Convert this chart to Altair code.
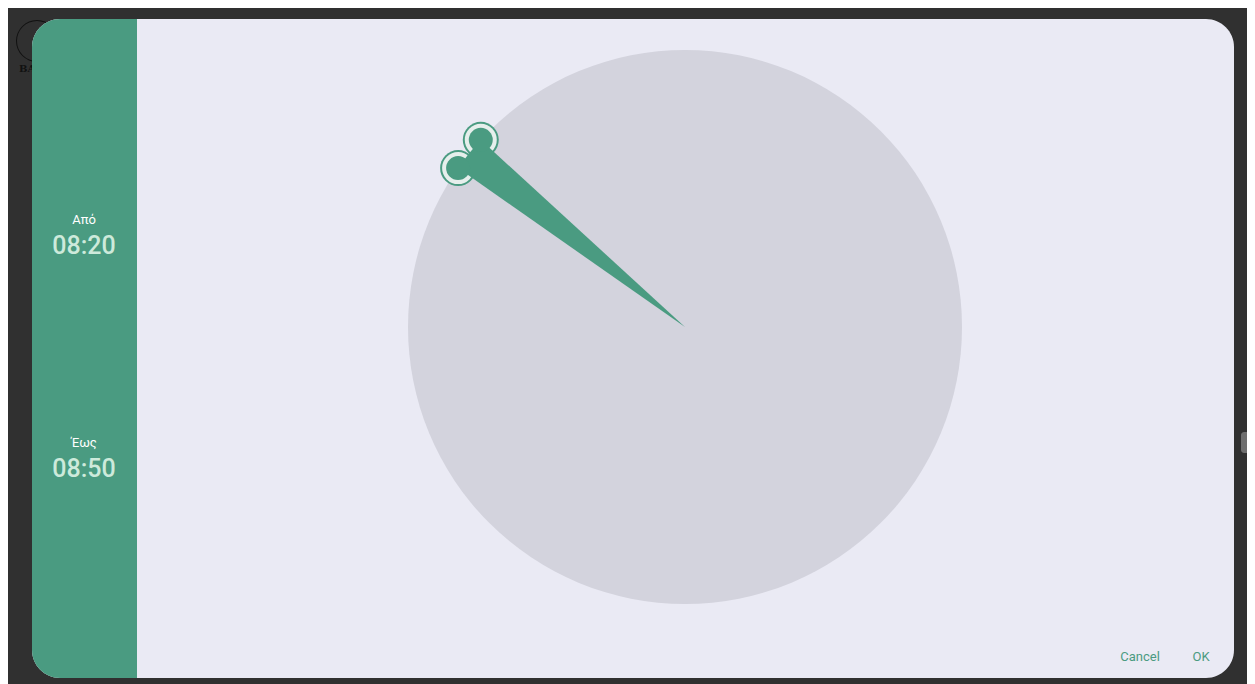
import math
import altair as alt
import pandas as pd

# ---- data (screen-space units) ----
dialog_box = [32, 1234, 19, 678]          # x, x2, y, y2
side_panel = [32, 137, 19, 678]
dial_center = [685, 327]
dial_radius = [277]
handle_deg = [312.5, 305.0]                # clock angles of the two handles
labels = ["Από", "Έως"]
times = ["08:20", "08:50"]
label_pos = [[84, 220], [84, 443]]
time_pos = [[84, 246], [84, 469]]
buttons = ["Cancel", "OK"]
button_pos = [[1140, 657], [1201, 657]]

GREEN = "#4a9b81"
LAV = "#eaeaf4"
DIAL = "#d3d3dd"

W, H = 1239, 676
xs = alt.Scale(domain=[8, 8 + W], nice=False, zero=False)
ys = alt.Scale(domain=[8, 8 + H], reverse=True, nice=False, zero=False)
X = lambda f: alt.X(f, type="quantitative", scale=xs, axis=None)
Y = lambda f: alt.Y(f, type="quantitative", scale=ys, axis=None)
X2 = lambda f: alt.X2(f)
Y2 = lambda f: alt.Y2(f)

box_df = pd.DataFrame([{"x": dialog_box[0], "x2": dialog_box[1], "y": dialog_box[2], "y2": dialog_box[3]}])
panel_df = pd.DataFrame([{"x": side_panel[0], "x2": side_panel[1], "y": side_panel[2], "y2": side_panel[3]}])

dialog = alt.Chart(box_df).mark_rect(color=LAV, cornerRadius=28).encode(
    x=X("x"), x2=X2("x2"), y=Y("y"), y2=Y2("y2"))
panel = alt.Chart(panel_df).mark_rect(
    color=GREEN, cornerRadiusTopLeft=28, cornerRadiusBottomLeft=28).encode(
    x=X("x"), x2=X2("x2"), y=Y("y"), y2=Y2("y2"))

# background logo (partly hidden behind dialog)
logo_df = pd.DataFrame([{"x": 37, "y": 41, "r": 21, "ri": 20}])
logo = alt.Chart(logo_df).mark_arc(color="#111111", theta=0, theta2=2 * math.pi).encode(
    x=X("x"), y=Y("y"), radius=alt.Radius("r:Q", scale=None), radius2=alt.Radius2("ri"))
logo_txt = alt.Chart(pd.DataFrame([{"x": 19, "y": 69, "t": "BA"}])).mark_text(
    font="DejaVu Serif", fontSize=10, fontWeight="bold", color="#111111", align="left", baseline="middle"
).encode(x=X("x"), y=Y("y"), text="t:N")

# right-side tool button
btn_df = pd.DataFrame([{"x": 1241, "x2": 1262, "y": 432, "y2": 453}])
side_btn = alt.Chart(btn_df).mark_rect(color="#6e6e6e", cornerRadius=3).encode(
    x=X("x"), x2=X2("x2"), y=Y("y"), y2=Y2("y2"))

# dial
dial_df = pd.DataFrame([{"x": dial_center[0], "y": dial_center[1], "r": dial_radius[0],
                         "t0": 0.0, "t1": 2 * math.pi}])
dial = alt.Chart(dial_df).mark_arc(color=DIAL).encode(
    x=X("x"), y=Y("y"), radius=alt.Radius("r:Q", scale=None),
    theta=alt.Theta("t0:Q", scale=None), theta2=alt.Theta2("t1"))

# wedge between the two handles
a0, a1 = sorted(math.radians(d) for d in handle_deg)
wedge_df = pd.DataFrame([{"x": dial_center[0], "y": dial_center[1], "r": dial_radius[0],
                          "t0": a0, "t1": a1}])
wedge = alt.Chart(wedge_df).mark_arc(color=GREEN).encode(
    x=X("x"), y=Y("y"), radius=alt.Radius("r:Q", scale=None),
    theta=alt.Theta("t0:Q", scale=None), theta2=alt.Theta2("t1"))

# handles
hrows = []
for d in handle_deg:
    a = math.radians(d)
    hrows.append({"x": dial_center[0] + dial_radius[0] * math.sin(a),
                  "y": dial_center[1] - dial_radius[0] * math.cos(a),
                  "t0": 0.0, "t1": 2 * math.pi})
h_df = pd.DataFrame(hrows)


def ring(color, r_out, r_in=None):
    enc = dict(x=X("x"), y=Y("y"), radius=alt.value(r_out),
               theta=alt.Theta("t0:Q", scale=None), theta2=alt.Theta2("t1"))
    if r_in is not None:
        enc["radius2"] = alt.value(r_in)
    return alt.Chart(h_df).mark_arc(color=color).encode(**enc)


h_outer = ring(GREEN, 18)
h_gap = ring("#e6efec", 16)
h_dot = ring(GREEN, 12)
layers_handles = [h_outer, h_gap, wedge, h_dot]

# texts
lab_df = pd.DataFrame({"x": [p[0] for p in label_pos], "y": [p[1] for p in label_pos], "t": labels})
time_df = pd.DataFrame({"x": [p[0] for p in time_pos], "y": [p[1] for p in time_pos], "t": times})
btn_txt_df = pd.DataFrame({"x": [p[0] for p in button_pos], "y": [p[1] for p in button_pos], "t": buttons})

lab = alt.Chart(lab_df).mark_text(font="Roboto", fontSize=13, color="#ffffff", baseline="middle").encode(
    x=X("x"), y=Y("y"), text="t:N")
tim = alt.Chart(time_df).mark_text(font="Roboto", fontSize=25, fontWeight=500, color="#cdeadb",
                                   baseline="middle").encode(
    x=X("x"), y=Y("y"), text="t:N")
btns = alt.Chart(btn_txt_df).mark_text(font="Roboto", fontSize=13, color=GREEN, baseline="middle").encode(
    x=X("x"), y=Y("y"), text="t:N")

chart = alt.layer(
    logo, logo_txt, side_btn, dialog, panel, dial, *layers_handles, lab, tim, btns
).properties(
    width=W, height=H, padding=0, background="#303030",
    autosize=alt.AutoSizeParams(type="none")
).configure_view(strokeWidth=0)

chart.save("out.html", embed_options={"renderer": "svg", "actions": False})
